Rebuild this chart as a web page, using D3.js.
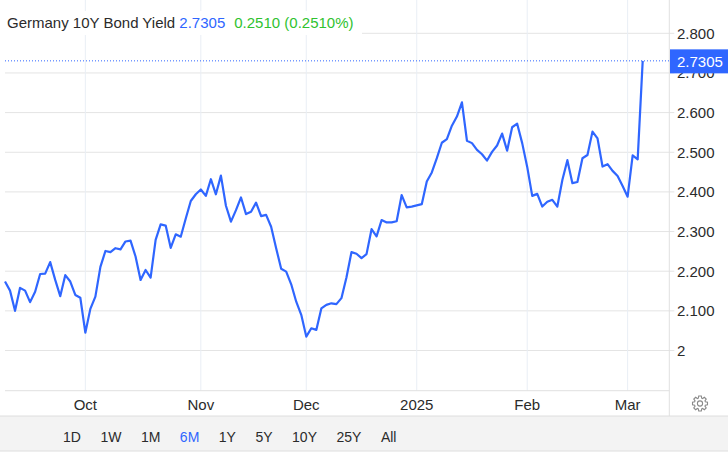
<!DOCTYPE html>
<html>
<head>
<meta charset="utf-8">
<script src="https://cdn.jsdelivr.net/npm/d3@7"></script>
<style>
  body { margin: 0; background: #fff; }
  svg { display: block; font-family: "Liberation Sans", Arial, Helvetica, sans-serif; }
</style>
</head>
<body>
<div id="chart"></div>
<script>
// yield values, one per trading day (Sep 9 2024 .. Mar 6 2025)
const yields = [
  2.174, 2.151, 2.100, 2.158, 2.151, 2.122, 2.148, 2.193, 2.194, 2.223,
  2.178, 2.137, 2.190, 2.174, 2.140, 2.133, 2.045, 2.105, 2.136, 2.211,
  2.251, 2.248, 2.258, 2.255, 2.275, 2.277, 2.237, 2.178, 2.203, 2.184,
  2.279, 2.318, 2.315, 2.259, 2.293, 2.287, 2.333, 2.377, 2.394, 2.406,
  2.390, 2.432, 2.394, 2.441, 2.365, 2.325, 2.354, 2.386, 2.344, 2.350,
  2.373, 2.339, 2.342, 2.312, 2.258, 2.206, 2.199, 2.167, 2.123, 2.090,
  2.035, 2.056, 2.052, 2.106, 2.115, 2.119, 2.117, 2.132, 2.184, 2.248,
  2.244, 2.233, 2.243, 2.306, 2.288, 2.329, 2.323, 2.323, 2.326, 2.392,
  2.361, 2.363, 2.366, 2.369, 2.426, 2.449, 2.485, 2.524, 2.533, 2.567,
  2.590, 2.626, 2.529, 2.523, 2.506, 2.495, 2.479, 2.501, 2.517, 2.547,
  2.504, 2.563, 2.572, 2.523, 2.463, 2.390, 2.395, 2.363, 2.375, 2.380,
  2.363, 2.430, 2.480, 2.422, 2.425, 2.485, 2.493, 2.552, 2.535, 2.464,
  2.470, 2.453, 2.440, 2.415, 2.388, 2.492, 2.482, 2.7305
];
const firstDay = "2024-09-09";
const holidays = ["2025-01-01"];
const monthStarts = ["2024-10-01", "2024-11-01", "2024-12-02", "2025-01-02", "2025-02-03", "2025-03-03"];
const monthLabels = ["Oct", "Nov", "Dec", "2025", "Feb", "Mar"];
const yTicks = [2.0, 2.1, 2.2, 2.3, 2.4, 2.5, 2.6, 2.7, 2.8];
const ranges = ["1D", "1W", "1M", "6M", "1Y", "5Y", "10Y", "25Y", "All"];
const activeRange = "6M";
const title = "Germany 10Y Bond Yield";
const lastValue = "2.7305";
const change = "0.2510 (0.2510%)";

const W = 728, H = 452;
const blue = "#2f66ff", green = "#2fc22f", ink = "#2b2b2b";
const plotRight = 669.3, axisY = 390.7;

const fmt = d3.timeFormat("%Y-%m-%d");
const parse = d3.timeParse("%Y-%m-%d");
const dates = [];
for (let d = parse(firstDay); dates.length < yields.length; d = d3.timeDay.offset(d, 1)) {
  const s = fmt(d);
  if (d.getDay() !== 0 && d.getDay() !== 6 && !holidays.includes(s)) dates.push(s);
}
const data = dates.map((d, i) => ({ date: d, value: yields[i] }));

const x = d3.scalePoint().domain(dates).range([5, 642.7]);
const y = d3.scaleLinear().domain([2.0, 2.8]).range([350.5, 33.3]);

const svg = d3.select("#chart").append("svg")
  .attr("width", W).attr("height", H);

// horizontal grid
svg.append("g")
  .selectAll("line")
  .data(yTicks)
  .join("line")
  .attr("x1", 5).attr("x2", plotRight + 5)
  .attr("y1", d => y(d)).attr("y2", d => y(d))
  .attr("stroke", "#e4e4e4");

// vertical grid
svg.append("g")
  .selectAll("line")
  .data(monthStarts)
  .join("line")
  .attr("x1", d => x(d)).attr("x2", d => x(d))
  .attr("y1", 0).attr("y2", axisY)
  .attr("stroke", "#e9eef5");

// title box hides grid behind it
svg.append("rect").attr("x", 0).attr("y", 11).attr("width", 362).attr("height", 24).attr("fill", "#fff");

const t = svg.append("text").attr("x", 7).attr("y", 28).attr("font-size", 15).attr("fill", ink);
t.append("tspan").text(title);
t.append("tspan").attr("dx", 4.2).attr("fill", blue).text(lastValue);
t.append("tspan").attr("dx", 9).attr("fill", green).text(change);

// axes frame
svg.append("line").attr("x1", 5).attr("x2", plotRight).attr("y1", axisY).attr("y2", axisY).attr("stroke", "#e0e0e0");
svg.append("line").attr("x1", plotRight).attr("x2", plotRight).attr("y1", 0).attr("y2", 416).attr("stroke", "#e0e0e0");

// y axis labels
svg.append("g")
  .selectAll("text")
  .data(yTicks)
  .join("text")
  .attr("x", 677).attr("y", d => y(d))
  .attr("dy", "0.36em")
  .attr("font-size", 15).attr("fill", ink)
  .text(d => d === 2 ? "2" : d3.format(".3f")(d));

// x axis labels
svg.append("g")
  .selectAll("text")
  .data(monthStarts)
  .join("text")
  .attr("x", d => x(d)).attr("y", 410)
  .attr("text-anchor", "middle")
  .attr("font-size", 15).attr("fill", ink)
  .text((d, i) => monthLabels[i]);

// last value dotted line
svg.append("line")
  .attr("x1", 5).attr("x2", plotRight)
  .attr("y1", y(yields[yields.length - 1])).attr("y2", y(yields[yields.length - 1]))
  .attr("stroke", blue).attr("stroke-width", 1).attr("stroke-dasharray", "1,2");

// series line
svg.append("path")
  .datum(data)
  .attr("fill", "none")
  .attr("stroke", blue)
  .attr("stroke-width", 2.2)
  .attr("stroke-linejoin", "round")
  .attr("d", d3.line().x(d => x(d.date)).y(d => y(d.value)));

// last value label
const ly = y(yields[yields.length - 1]);
svg.append("rect").attr("x", 670).attr("y", ly - 11.5).attr("width", 58).attr("height", 24).attr("fill", blue);
svg.append("text").attr("x", 677).attr("y", ly).attr("dy", "0.4em")
  .attr("font-size", 15).attr("fill", "#fff").text(lastValue);

// range bar
svg.append("rect").attr("x", 0).attr("y", 416).attr("width", W).attr("height", 35).attr("fill", "#f3f3f3");
svg.append("line").attr("x1", 0).attr("x2", W).attr("y1", 416).attr("y2", 416).attr("stroke", "#dedede");
svg.append("line").attr("x1", 0).attr("x2", W).attr("y1", 451).attr("y2", 451).attr("stroke", "#dedede");
let bx = 63;
ranges.forEach(r => {
  const tx = svg.append("text").attr("x", bx).attr("y", 441.5)
    .attr("font-size", 14).attr("fill", r === activeRange ? blue : ink).text(r);
  bx += tx.node().getComputedTextLength() + 19.5;
});

// settings gear
const gear = [];
const teeth = 8, ro = 7.6, ri = 5.6;
for (let k = 0; k < teeth; k++) {
  const a = k * 2 * Math.PI / teeth;
  const s = Math.PI / teeth * 0.55;
  gear.push([a - s * 1.4, ri], [a - s * 0.8, ro], [a + s * 0.8, ro], [a + s * 1.4, ri]);
}
const gg = svg.append("g").attr("transform", "translate(700,403.5)");
gg.append("path")
  .attr("d", d3.lineRadial().angle(d => d[0]).radius(d => d[1]).curve(d3.curveLinearClosed)(gear))
  .attr("fill", "none").attr("stroke", "#8a8a8a").attr("stroke-width", 1.1);
gg.append("circle").attr("r", 2.6).attr("fill", "none").attr("stroke", "#8a8a8a").attr("stroke-width", 1.1);
</script>
</body>
</html>
